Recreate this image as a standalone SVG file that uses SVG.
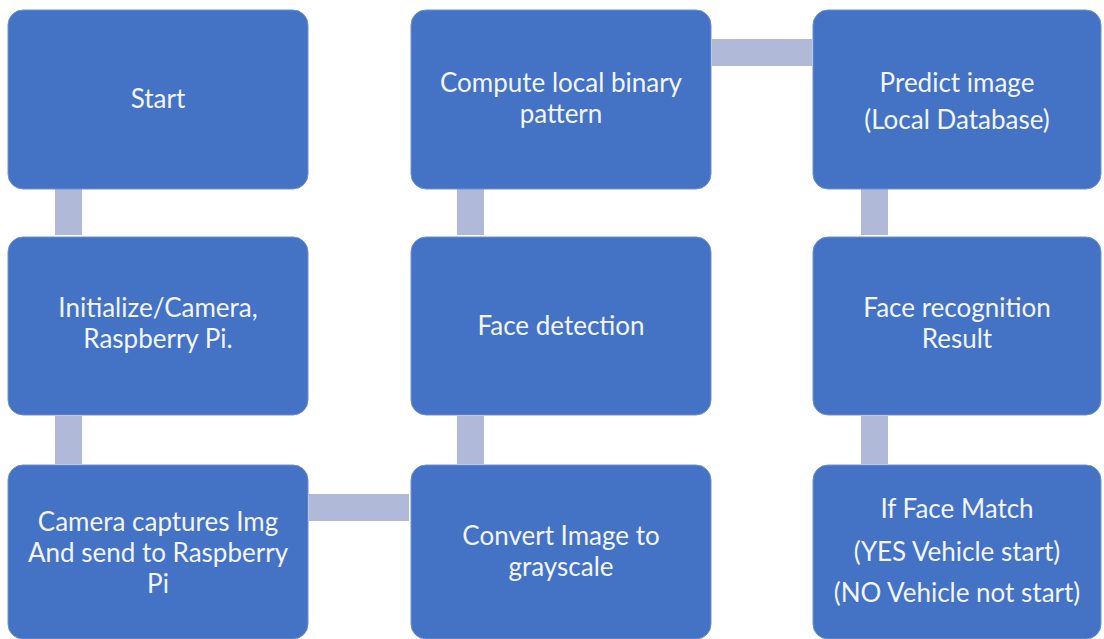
<svg xmlns="http://www.w3.org/2000/svg" width="1104" height="639" viewBox="0 0 1104 639">
<style>
.box{fill:#4472C4;stroke:#6E90D0;stroke-width:1}
.bar{fill:#B0BAD8}
.t{font-family:Lato,"Liberation Sans",sans-serif;font-size:26px;fill:#F2F5FC;text-anchor:middle}
</style>
<rect width="1104" height="639" fill="#FFFFFF"/>
<g id="connectors">
<rect class="bar" x="55" y="189" width="27" height="46"/>
<rect class="bar" x="55" y="416" width="27" height="48"/>
<rect class="bar" x="309" y="494" width="100" height="27"/>
<rect class="bar" x="457" y="416" width="27" height="48"/>
<rect class="bar" x="457" y="189" width="27" height="46"/>
<rect class="bar" x="712" y="39" width="100" height="27"/>
<rect class="bar" x="861" y="189" width="27" height="46"/>
<rect class="bar" x="861" y="416" width="27" height="48"/>
</g>
<g id="start">
<rect class="box" x="8" y="10" width="300" height="179" rx="15"/>
<text class="t" x="158" y="108">Start</text>
</g>
<g id="init">
<rect class="box" x="8" y="237" width="300" height="178" rx="15"/>
<text class="t" x="158" y="317">Initialize/Camera,</text>
<text class="t" x="158" y="348">Raspberry Pi.</text>
</g>
<g id="capture">
<rect class="box" x="8" y="465" width="300" height="174" rx="15"/>
<text class="t" x="158" y="531">Camera captures Img</text>
<text class="t" x="158" y="562">And send to Raspberry</text>
<text class="t" x="158" y="593">Pi</text>
</g>
<g id="gray">
<rect class="box" x="411" y="465" width="300" height="174" rx="15"/>
<text class="t" x="561" y="545">Convert Image to</text>
<text class="t" x="561" y="576">grayscale</text>
</g>
<g id="detect">
<rect class="box" x="411" y="237" width="300" height="178" rx="15"/>
<text class="t" x="561" y="335">Face detection</text>
</g>
<g id="lbp">
<rect class="box" x="411" y="10" width="300" height="179" rx="15"/>
<text class="t" x="561" y="92">Compute local binary</text>
<text class="t" x="561" y="123">pattern</text>
</g>
<g id="predict">
<rect class="box" x="813" y="10" width="288" height="179" rx="15"/>
<text class="t" x="957" y="92">Predict image</text>
<text class="t" x="957" y="129">(Local Database)</text>
</g>
<g id="result">
<rect class="box" x="813" y="237" width="288" height="178" rx="15"/>
<text class="t" x="957" y="317">Face recognition</text>
<text class="t" x="957" y="348">Result</text>
</g>
<g id="match">
<rect class="box" x="813" y="465" width="288" height="174" rx="15"/>
<text class="t" x="957" y="518">If Face Match</text>
<text class="t" x="957" y="561">(YES Vehicle start)</text>
<text class="t" x="957" y="602">(NO Vehicle not start)</text>
</g>
</svg>
